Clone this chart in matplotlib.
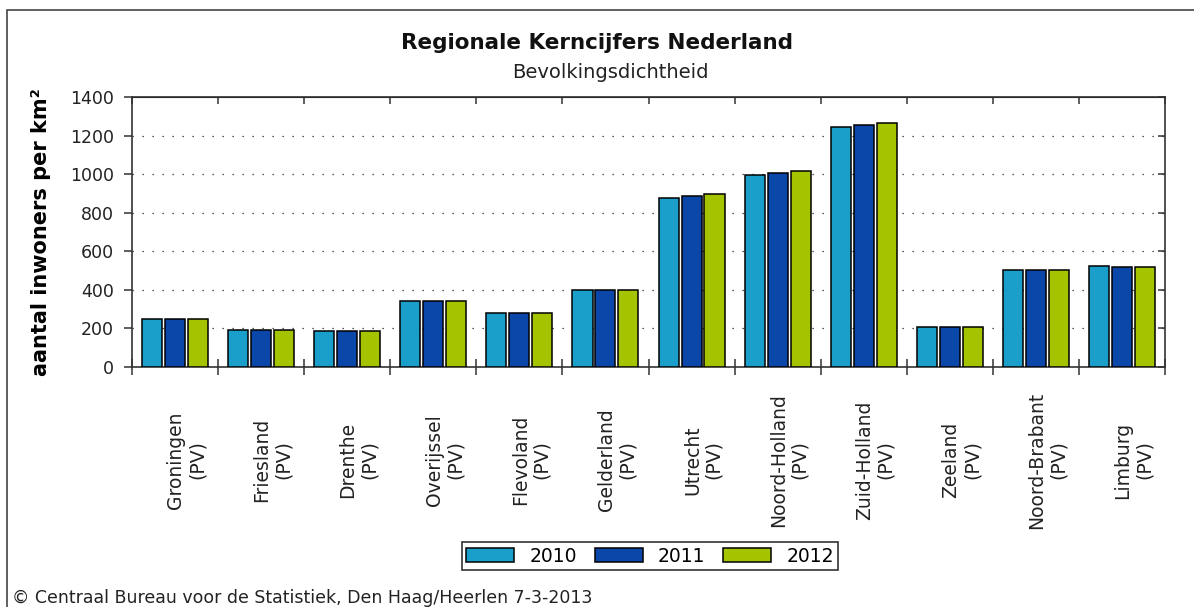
import matplotlib
matplotlib.use("Agg")
import matplotlib.pyplot as plt
import numpy as np
from matplotlib.patches import Rectangle
from matplotlib.transforms import blended_transform_factory, ScaledTranslation

categories = ["Groningen\n(PV)", "Friesland\n(PV)", "Drenthe\n(PV)", "Overijssel\n(PV)",
              "Flevoland\n(PV)", "Gelderland\n(PV)", "Utrecht\n(PV)", "Noord-Holland\n(PV)",
              "Zuid-Holland\n(PV)", "Zeeland\n(PV)", "Noord-Brabant\n(PV)", "Limburg\n(PV)"]
years = ["2010", "2011", "2012"]
v2010 = [248, 194, 187, 340, 279, 400, 878, 996, 1243, 210, 503, 522]
v2011 = [248, 194, 187, 341, 281, 401, 887, 1007, 1254, 210, 504, 521]
v2012 = [247, 194, 186, 342, 281, 401, 896, 1017, 1263, 210, 504, 521]
yticks = [0, 200, 400, 600, 800, 1000, 1200, 1400]
colors = ["#1a9fca", "#0a47a8", "#a6c300"]

plt.rcParams['font.family'] = ['DejaVu Sans']
W, H = 1194, 607
fig = plt.figure(figsize=(W / 100, H / 100), dpi=100)

# outer frame (cut at right and bottom)
fig.patches.append(Rectangle((7 / W, -0.1), 1.2, 1 - 10 / H + 0.1, transform=fig.transFigure,
                             fill=False, edgecolor="#444444", linewidth=1.2))

ax = fig.add_axes([132 / W, 1 - 367 / H, (1165 - 132) / W, (367 - 97) / H])
n = len(categories)
x = np.arange(n) + 0.5
off = 0.267
bw = 0.233
series = [v2010, v2011, v2012]
for i, (vals, col, yr) in enumerate(zip(series, colors, years)):
    ax.bar(x + (i - 1) * off, vals, width=bw, color=col, edgecolor="black",
           linewidth=1.1, label=yr, zorder=3)

ax.set_xlim(0, n)
ax.set_ylim(0, 1400)
ax.set_yticks(yticks)
ax.set_yticklabels([str(t) for t in yticks], fontsize=12.5, color="#222222")
ax.set_xticks(np.arange(n + 1))
ax.set_xticklabels([])
for yv in yticks[1:-1]:
    ax.axhline(yv, color="#222222", linewidth=0.9, linestyle=(0, (1, 7)), zorder=1)

for s in ax.spines.values():
    s.set_color("#333333")
    s.set_linewidth(1.2)
ax.tick_params(axis='y', direction='out', length=6, width=1.1, color="#333333", pad=7)
ax.tick_params(axis='x', direction='inout', length=11, width=1.1, color="#333333")

axr = ax.twinx()
axr.set_ylim(0, 1400)
axr.set_yticks(yticks)
axr.set_yticklabels([])
axr.tick_params(axis='y', direction='in', length=5, width=1.1, color="#333333")
for s in axr.spines.values():
    s.set_visible(False)

axt = ax.secondary_xaxis('top')
axt.set_xticks(np.arange(n + 1))
axt.set_xticklabels([])
axt.tick_params(axis='x', direction='in', length=5, width=1.1, color="#333333")

trans = blended_transform_factory(ax.transData, fig.transFigure) + \
    ScaledTranslation(11.5 / 100, 0, fig.dpi_scale_trans)
for xi, lab in zip(x, categories):
    ax.text(xi, 1 - 460 / H, lab, transform=trans, rotation=90, ha='center', va='center',
            multialignment='center', fontsize=13.5, color="#222222", linespacing=1.15)

ax.set_ylabel("aantal inwoners per km²", fontsize=15, fontweight='bold')
ax.yaxis.set_label_coords(-0.078, 0.5)

fig.text(597 / W, 1 - 43 / H, "Regionale Kerncijfers Nederland", ha='center', va='center',
         fontsize=15.5, fontweight='bold', color="#111111")
fig.text(610 / W, 1 - 73 / H, "Bevolkingsdichtheid", ha='center', va='center',
         fontsize=14, color="#222222")

leg = ax.legend(loc='center', bbox_to_anchor=(650 / W, 1 - 556 / H), bbox_transform=fig.transFigure,
                ncol=3, fontsize=13.5, frameon=True, fancybox=False, handlelength=2.56,
                handleheight=0.76, handletextpad=0.8, columnspacing=0.96, borderpad=0.25,
                borderaxespad=0)
leg.get_frame().set_edgecolor("black")
leg.get_frame().set_linewidth(1.2)

fig.text(12 / W, 1 - 598 / H, "© Centraal Bureau voor de Statistiek, Den Haag/Heerlen 7-3-2013",
         ha='left', va='center', fontsize=12.5, color="#222222")

fig.savefig("out.png", dpi=100)
